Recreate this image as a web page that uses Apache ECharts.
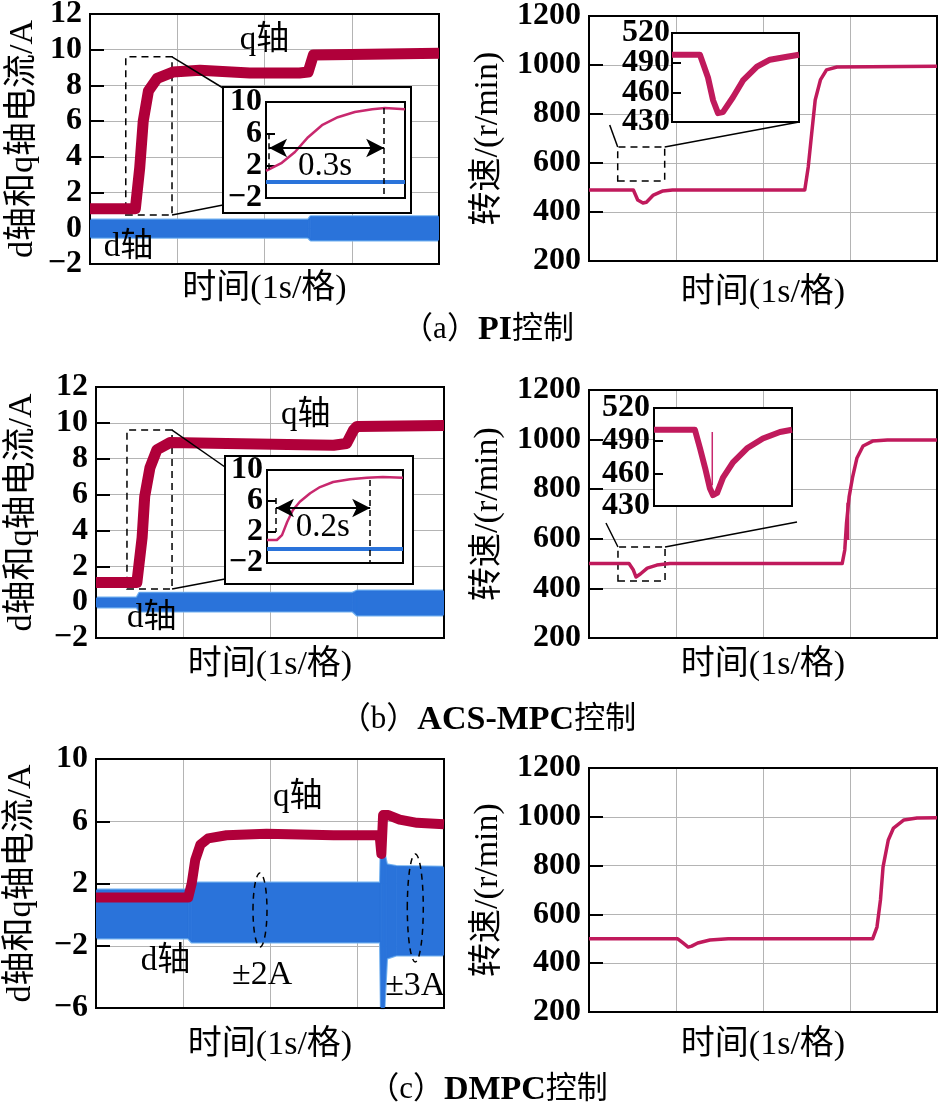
<!DOCTYPE html>
<html><head><meta charset="utf-8">
<script src="https://cdn.jsdelivr.net/npm/echarts@6/dist/echarts.min.js"></script>
<style>html,body{margin:0;padding:0;background:#fff}#c{width:939px;height:1110px}</style>
</head><body><div id="c"></div>
<script>
// ---------------- DATA ----------------
// (a) PI
const aTimeQ = [0, 0.52, 0.57, 0.61, 0.67, 0.77, 0.95, 1.26, 1.83, 2.4, 2.5, 2.56, 3.2, 4];
const aQ     = [1.1, 1.1, 3.4, 6.0, 7.7, 8.4, 8.75, 8.85, 8.7, 8.7, 8.75, 9.7, 9.75, 9.8];
const aTimeD = [0, 2.5, 2.53, 4];
const aDLow  = [-0.5, -0.5, -0.66, -0.66];
const aDHigh = [0.46, 0.46, 0.65, 0.65];
const aTimeS = [0, 0.51, 0.56, 0.62, 0.66, 0.74, 0.85, 0.96, 2.48, 2.52, 2.56, 2.6, 2.66, 2.73, 2.85, 4];
const aSpeed = [490, 490, 449, 437, 440, 469, 486, 490, 490, 584, 722, 857, 939, 980, 992, 995];
const aInsTime = [0.5, 0.503, 0.541, 0.575, 0.609, 0.645, 0.686, 0.73, 0.775, 0.808, 0.86];
const aInsQ    = [1.4, 1.5, 2.4, 3.75, 5.6, 7.1, 8.1, 8.75, 9.1, 9.25, 9.1];
const aInsDTime = [0.5, 0.86];
const aInsD     = [0.0, 0.0];
const aInsSTime = [0.3, 0.498, 0.555, 0.591, 0.626, 0.661, 0.732, 0.803, 0.902, 0.994, 1.115, 1.2];
const aInsS     = [498, 498, 475, 452, 439, 440, 455, 472, 486, 493, 496, 498];

// (b) ACS-MPC
const bTimeQ = [0, 0.47, 0.53, 0.56, 0.62, 0.7, 0.85, 1.5, 2.73, 2.88, 2.96, 3.0, 4];
const bQ     = [1.1, 1.1, 3.6, 5.9, 7.5, 8.5, 8.9, 8.85, 8.75, 8.85, 9.6, 9.8, 9.85];
const bTimeD = [0, 0.47, 0.5, 2.95, 3.0, 4];
const bDLow  = [-0.27, -0.27, -0.5, -0.5, -0.72, -0.72];
const bDHigh = [0.23, 0.23, 0.5, 0.5, 0.62, 0.62];
const bTimeS = [0, 0.46, 0.51, 0.54, 0.59, 0.67, 0.78, 0.93, 2.91, 2.94, 2.96, 2.99, 3.03, 3.08, 3.15, 3.26, 3.43, 4];
const bSpeed = [500, 500, 474, 446, 458, 482, 494, 500, 500, 555, 664, 769, 849, 926, 974, 994, 998, 998];
const bSpikeTime = [2.975, 2.975];
const bSpikeVal  = [595, 745];
const bInsTime = [0.4, 0.421, 0.432, 0.443, 0.455, 0.47, 0.492, 0.513, 0.541, 0.577, 0.613, 0.647, 0.69];
const bInsQ    = [0.97, 0.97, 1.6, 3.3, 4.8, 5.9, 7.0, 7.8, 8.45, 8.8, 9.0, 9.1, 9.0];
const bInsDTime = [0.4, 0.69];
const bInsD     = [-0.2, -0.2];
const bInsSTime = [0.31, 0.47, 0.49, 0.51, 0.529, 0.541, 0.557, 0.58, 0.619, 0.674, 0.736, 0.803, 0.85];
const bInsS     = [500, 500, 483, 465, 446, 440, 442, 456, 470, 483, 492, 498, 500];
const bInsSpikeTime = [0.538, 0.538];
const bInsSpikeVal  = [498, 449];

// (c) DMPC
const cTimeQ = [0, 1.06, 1.1, 1.14, 1.2, 1.29, 1.5, 1.96, 2.73, 3.26, 3.28, 3.3, 3.36, 3.49, 3.69, 4];
const cQ     = [1.1, 1.1, 2.0, 3.5, 4.5, 4.9, 5.1, 5.2, 5.1, 5.1, 3.9, 6.4, 6.4, 6.1, 5.9, 5.8];
const cTimeD = [0, 1.06, 1.1, 3.27, 3.28, 3.31, 3.34, 3.45, 4];
const cDLow  = [-1.5, -1.5, -1.76, -1.76, -6, -6, -2.8, -2.6, -2.6];
const cDHigh = [1.58, 1.58, 2.03, 2.03, 4.8, 4.0, 3.2, 3.1, 3.05];
const cTimeS = [0, 1.02, 1.08, 1.14, 1.18, 1.25, 1.39, 1.6, 3.26, 3.31, 3.35, 3.38, 3.44, 3.5, 3.62, 3.77, 4];
const cSpeed = [500, 500, 483, 466, 470, 483, 495, 500, 500, 548, 659, 795, 905, 954, 987, 995, 996];

// tick labels of the insets
const insetCurrentTicks = [10, 6, 2, -2];
const insetSpeedTicks = [520, 490, 460, 430];

// axis / text
const xName = '时间(1s/格)';
const currentName = 'd轴和q轴电流/A';
const speedName = '转速/(r/min)';
const captions = ['（a）', 'PI', '控制', '（b）', 'ACS-MPC', '控制', '（c）', 'DMPC', '控制'];

// ---------------- STYLE ----------------
const F = '"Liberation Serif", "Noto Sans CJK SC", serif';
const Q_MAIN = '#b0003a', SPD = '#c01a5c', Q_INS = '#c8286e', D_FILL = '#2a73da', D_EDGE = '#70b0f0';
const GRIDC = '#b4b4b4';
const fmt = v => (v < 0 ? '\u2212' + Math.abs(v) : String(v));
const pts = (t, v) => t.map((x, i) => [x, v[i]]);

const layout = [
  {left: 90, top: 14, width: 349, height: 250},
  {left: 589, top: 16, width: 348, height: 245},
  {left: 96, top: 387, width: 348, height: 251},
  {left: 589, top: 390, width: 348, height: 248},
  {left: 96, top: 759, width: 348, height: 249},
  {left: 589, top: 768, width: 348, height: 244},
  // insets
  {left: 266, top: 102, width: 139, height: 96},
  {left: 672, top: 33, width: 127, height: 89},
  {left: 267, top: 470, width: 136, height: 93},
  {left: 654, top: 408, width: 138, height: 98}
];
const grids = layout.map((g, i) => Object.assign({
  show: true, borderColor: '#000', borderWidth: 2,
  backgroundColor: i >= 6 ? '#fff' : 'transparent',
  zlevel: i >= 6 ? 1 : 0, z: i >= 6 ? 5 : 2,
  outerBoundsMode: 'none', containLabel: false
}, g));

const xGaps = [8, 15, 10, 10, 20, 16];
const xAxes = [];
for (let i = 0; i < 6; i++) {
  xAxes.push({gridIndex: i, type: 'value', min: 0, max: 4, interval: 1,
    axisLine: {show: false}, axisTick: {show: false}, axisLabel: {show: false},
    splitLine: {show: true, lineStyle: {color: GRIDC, width: 1}},
    name: xName, nameLocation: 'middle', nameGap: xGaps[i],
    nameTextStyle: {fontFamily: F, fontSize: 34, color: '#000'}});
}
const insX = [[0.5, 0.86], [0.3, 1.2], [0.4, 0.69], [0.31, 0.85]];
insX.forEach((r, k) => xAxes.push({gridIndex: 6 + k, type: 'value', min: r[0], max: r[1], show: false,
  zlevel: 1, z: 6, splitLine: {show: false}}));

function mainY(gi, min, max, interval, name, gap) {
  return {gridIndex: gi, type: 'value', min, max, interval,
    axisLine: {show: false},
    axisTick: {show: true, inside: true, length: 14, lineStyle: {color: '#000', width: 2}},
    axisLabel: {margin: 8, color: '#000', fontFamily: F, fontSize: 32, fontWeight: 'bold', formatter: fmt,
      showMinLabel: true, showMaxLabel: true},
    splitLine: {show: true, lineStyle: {color: GRIDC, width: 1}},
    name, nameLocation: 'middle', nameGap: gap,
    nameTextStyle: {fontFamily: F, fontSize: 34, color: '#000'}};
}
function insY(gi, min, max, interval) {
  return {gridIndex: gi, type: 'value', min, max, interval, zlevel: 1, z: 6,
    axisLine: {show: false},
    axisTick: {show: true, inside: true, length: 9, lineStyle: {color: '#000', width: 2}},
    axisLabel: {show: false},
    splitLine: {show: false}};
}
const yAxes = [
  mainY(0, -2, 12, 2, currentName, 50),
  mainY(1, 200, 1200, 200, speedName, 84),
  mainY(2, -2, 12, 2, currentName, 57),
  mainY(3, 200, 1200, 200, speedName, 84),
  mainY(4, -6, 10, 4, currentName, 58),
  mainY(5, 200, 1200, 200, speedName, 84),
  insY(6, -2, 10, 4),
  insY(7, 430, 520, 30),
  insY(8, -2, 10, 4),
  insY(9, 430, 520, 30)
];

const base = {type: 'line', showSymbol: false, symbol: 'none', animation: false, silent: true};
function line(gi, t, v, color, width, extra) {
  return Object.assign({}, base, {xAxisIndex: gi, yAxisIndex: gi, data: pts(t, v),
    lineStyle: {color, width, cap: 'butt', join: 'round'},
    zlevel: gi >= 6 ? 1 : 0, z: gi >= 6 ? 10 : 3}, extra || {});
}
// d-axis current band: edge lines + filled polygon between low and high arrays
function band(gi, t, lo, hi) {
  return [
    line(gi, t, lo, D_EDGE, 3, {z: 1}),
    line(gi, t, hi, D_EDGE, 3, {z: 1}),
    {type: 'custom', xAxisIndex: gi, yAxisIndex: gi, silent: true, animation: false, z: 2, clip: true,
      data: t.map((x, i) => [x, lo[i], hi[i]]),
      encode: {x: 0, y: [1, 2]},
      renderItem: (params, api) => {
        const i = params.dataIndex;
        if (i >= t.length - 1) return null;
        const p = [api.coord([t[i], lo[i]]), api.coord([t[i + 1], lo[i + 1]]),
                   api.coord([t[i + 1], hi[i + 1]]), api.coord([t[i], hi[i]])];
        return {type: 'polygon', shape: {points: p}, style: {fill: D_FILL, stroke: D_FILL, lineWidth: 0.8}};
      }}
  ];
}
const boxStyle = {color: 'rgba(0,0,0,0)', borderColor: '#000', borderWidth: 1.5, borderType: [7, 5]};
function zoomBox(a, b) { return {silent: true, itemStyle: boxStyle, data: [[{coord: a}, {coord: b}]]}; }

const boxes = {
  a: [[0.41, 0.74], [0.94, 9.6]],
  aR: [[0.33, 527], [0.87, 665]],
  b: [[0.356, 0.73], [0.874, 9.6]],
  bR: [[0.333, 430], [0.874, 567]]
};

const arrowStyle = {color: '#000', width: 2, type: 'solid'};
const dashStyle = {color: '#000', width: 1.5, type: [6, 4]};
function insMarks(t1, t2, vArrow, vTop, vMin, shortTop, shortBot) {
  return {silent: true, zlevel: 1, z: 30, symbol: ['none', 'none'], symbolSize: [14, 18], label: {show: false},
    data: [
      [{coord: [t1, vArrow], symbol: 'arrow', lineStyle: arrowStyle}, {coord: [t2, vArrow], symbol: 'arrow'}],
      [{coord: [t2, vTop], lineStyle: dashStyle}, {coord: [t2, vMin]}],
      [{coord: [t1, shortTop], lineStyle: dashStyle}, {coord: [t1, shortBot]}]
    ]};
}

const series = [
  ...band(0, aTimeD, aDLow, aDHigh),
  line(0, aTimeQ, aQ, Q_MAIN, 11, {markArea: zoomBox(...boxes.a)}),
  line(1, aTimeS, aSpeed, SPD, 3.5, {markArea: zoomBox(...boxes.aR)}),
  ...band(2, bTimeD, bDLow, bDHigh),
  line(2, bTimeQ, bQ, Q_MAIN, 11, {markArea: zoomBox(...boxes.b)}),
  line(3, bTimeS, bSpeed, SPD, 3.5, {markArea: zoomBox(...boxes.bR)}),
  line(3, bSpikeTime, bSpikeVal, SPD, 3),
  ...band(4, cTimeD, cDLow, cDHigh),
  line(4, cTimeQ, cQ, Q_MAIN, 10),
  line(5, cTimeS, cSpeed, SPD, 3.5),
  // insets
  line(6, aInsDTime, aInsD, D_FILL, 4),
  line(6, aInsTime, aInsQ, Q_INS, 2.5, {markLine: insMarks(0.508, 0.806, 4.25, 9.25, -2, 6.1, 1.25)}),
  line(7, aInsSTime, aInsS, SPD, 6),
  line(8, bInsDTime, bInsD, D_FILL, 4),
  line(8, bInsTime, bInsQ, Q_INS, 2.5, {markLine: insMarks(0.419, 0.62, 5.1, 8.7, -2, 6.4, 2.0)}),
  line(9, bInsSTime, bInsS, SPD, 6),
  line(9, bInsSpikeTime, bInsSpikeVal, Q_INS, 1.5)
];

const chart = echarts.init(document.getElementById('c'), null, {renderer: 'canvas'});
chart.setOption({animation: false, backgroundColor: '#fff', grid: grids, xAxis: xAxes, yAxis: yAxes, series});

// ---------------- ANNOTATIONS ----------------
const P = (gi, t, v) => chart.convertToPixel({gridIndex: gi}, [t, v]);
const g = [];
const LS = {stroke: '#000', lineWidth: 1.5};
function seg(p1, p2) { g.push({type: 'line', zlevel: 1, z: 20, shape: {x1: p1[0], y1: p1[1], x2: p2[0], y2: p2[1]}, style: LS}); }
function txt(p, text, size, align, weight) {
  g.push({type: 'text', zlevel: 1, z: 20, x: p[0], y: p[1],
    style: {text, font: (weight || 'normal') + ' ' + size + 'px ' + F, fill: '#000',
      textAlign: align || 'center', textVerticalAlign: 'middle'}});
}
// inset outer boxes (left panels)
const outerA = {x: 223, y: 87, width: 188, height: 126};
const outerB = {x: 225, y: 456, width: 188, height: 128};
[outerA, outerB].forEach(r => g.push({type: 'rect', zlevel: 1, z: 1, shape: r, style: {fill: '#fff', stroke: '#000', lineWidth: 2}}));
// inset tick labels
[[6, insetCurrentTicks, 4], [7, insetSpeedTicks, 2], [8, insetCurrentTicks, 4], [9, insetSpeedTicks, 4]].forEach(([gi, ticks, m]) => {
  ticks.forEach(v => {
    const p = P(gi, insX[gi - 6][0], v);
    txt([p[0] - m, p[1]], fmt(v), 32, 'right', 'bold');
  });
});
// connectors
seg(P(0, boxes.a[1][0], boxes.a[1][1]), [outerA.x, outerA.y + 1]);
seg(P(0, boxes.a[1][0], boxes.a[0][1]), [outerA.x, outerA.y + 118]);
seg(P(2, boxes.b[1][0], boxes.b[1][1]), [outerB.x, outerB.y + 11]);
seg(P(2, boxes.b[1][0], boxes.b[0][1]), [outerB.x, outerB.y + 123]);
const aRtr = P(1, boxes.aR[1][0], boxes.aR[1][1]);
seg(aRtr, [layout[7].left + layout[7].width, layout[7].top + layout[7].height]);
const aRtl = P(1, boxes.aR[0][0], boxes.aR[1][1]);
seg(aRtl, [aRtl[0] - 8, aRtl[1] - 22]);
const bRtr = P(3, boxes.bR[1][0], boxes.bR[1][1]);
seg(bRtr, [797, 522]);
const bRtl = P(3, boxes.bR[0][0], boxes.bR[1][1]);
seg(bRtl, [bRtl[0] - 12, bRtl[1] - 24]);
// labels
txt(P(0, 2.0, 10.5), 'q轴', 33);
txt(P(0, 0.44, -1.05), 'd轴', 33);
txt(P(2, 2.41, 10.44), 'q轴', 33);
txt(P(2, 0.64, -0.88), 'd轴', 33);
txt(P(4, 2.32, 7.56), 'q轴', 33);
txt(P(4, 0.8, -2.98), 'd轴', 33);
txt(P(4, 1.91, -3.88), '±2A', 34);
txt(P(4, 3.67, -4.59), '±3A', 34);
txt(P(6, 0.653, 1.9), '0.3s', 33);
txt(P(8, 0.519, 2.65), '0.2s', 33);
// dashed ellipses (c)
[[1.885, 0.3, 7, 37], [3.67, 0.43, 8, 54]].forEach(e => {
  const c = P(4, e[0], e[1]);
  g.push({type: 'ellipse', zlevel: 1, z: 20, shape: {cx: c[0], cy: c[1], rx: e[2], ry: e[3]},
    style: {fill: 'none', stroke: '#000', lineWidth: 1.5, lineDash: [6, 5]}});
});
// captions
const capY = [330, 720, 1090];
for (let k = 0; k < 3; k++) {
  g.push({type: 'text', x: 488, y: capY[k], z: 20,
    style: {text: '{p|' + captions[3 * k] + '}{l|' + captions[3 * k + 1] + '}{c|' + captions[3 * k + 2] + '}',
      textAlign: 'center', textVerticalAlign: 'middle', fill: '#000',
      rich: {p: {fontFamily: F, fontSize: 31, fill: '#000'},
             l: {fontFamily: F, fontSize: 34, fontWeight: 'bold', fill: '#000'},
             c: {fontFamily: F, fontSize: 31, fill: '#000'}}}});
}
chart.setOption({graphic: {elements: g}});
</script>
</body></html>
